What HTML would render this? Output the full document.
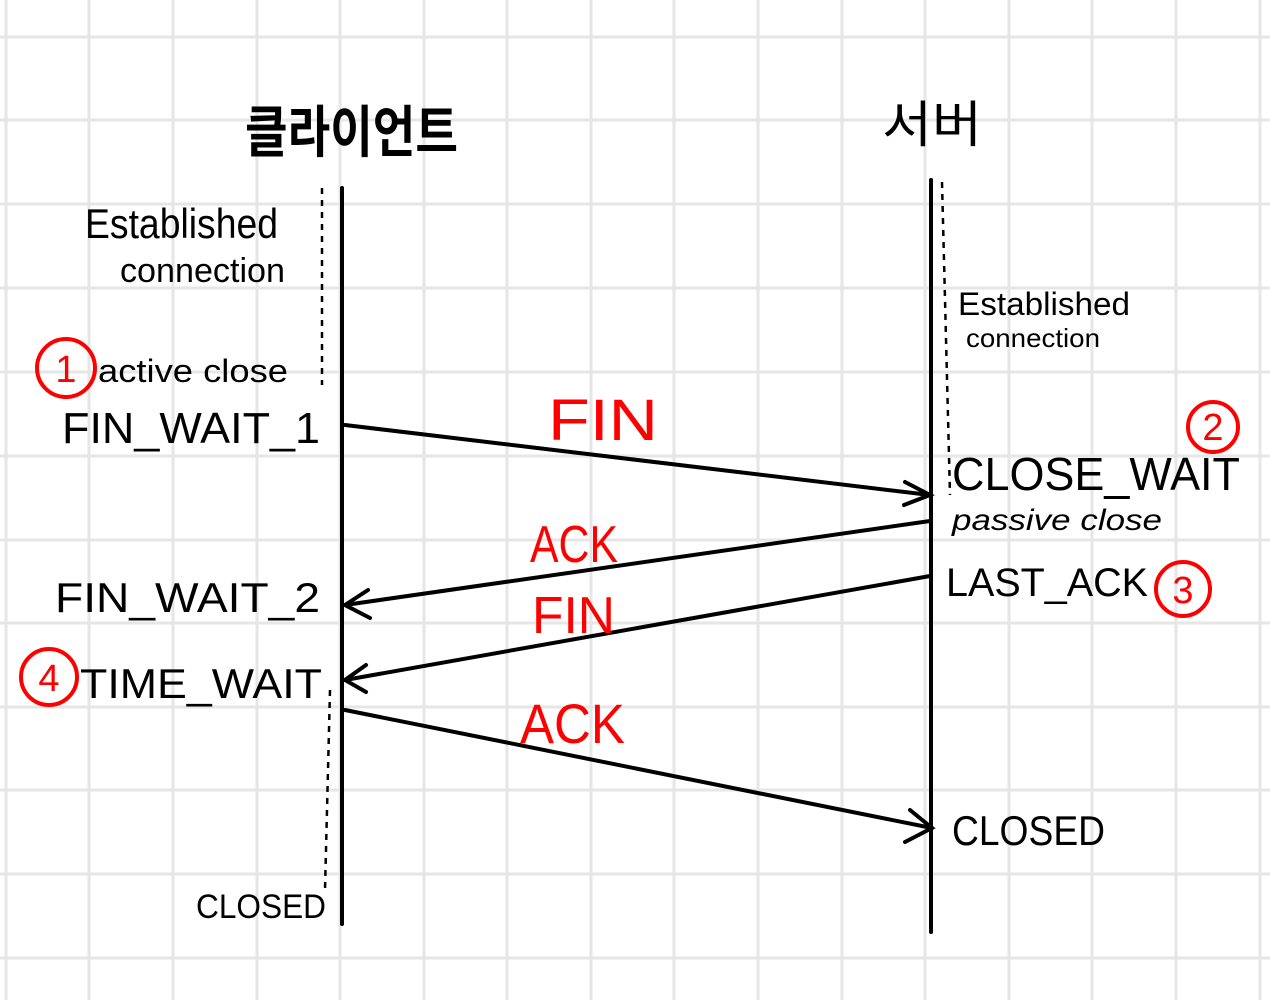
<!DOCTYPE html>
<html><head><meta charset="utf-8"><style>
html,body{margin:0;padding:0;background:#fff;}
svg{display:block}
text{font-family:"Liberation Sans","Noto Sans CJK KR",sans-serif;}
</style></head><body>
<svg width="1270" height="1000" viewBox="0 0 1270 1000" xmlns="http://www.w3.org/2000/svg">
<g stroke="#e6e6e6" stroke-width="3">
<line x1="6" y1="0" x2="6" y2="1000"/><line x1="89" y1="0" x2="89" y2="1000"/><line x1="173" y1="0" x2="173" y2="1000"/><line x1="257" y1="0" x2="257" y2="1000"/><line x1="340" y1="0" x2="340" y2="1000"/><line x1="424" y1="0" x2="424" y2="1000"/><line x1="507" y1="0" x2="507" y2="1000"/><line x1="591" y1="0" x2="591" y2="1000"/><line x1="674" y1="0" x2="674" y2="1000"/><line x1="758" y1="0" x2="758" y2="1000"/><line x1="842" y1="0" x2="842" y2="1000"/><line x1="925" y1="0" x2="925" y2="1000"/><line x1="1009" y1="0" x2="1009" y2="1000"/><line x1="1092" y1="0" x2="1092" y2="1000"/><line x1="1176" y1="0" x2="1176" y2="1000"/><line x1="1260" y1="0" x2="1260" y2="1000"/>
<line y1="37" x1="0" y2="37" x2="1270"/><line y1="120" x1="0" y2="120" x2="1270"/><line y1="204" x1="0" y2="204" x2="1270"/><line y1="288" x1="0" y2="288" x2="1270"/><line y1="372" x1="0" y2="372" x2="1270"/><line y1="456" x1="0" y2="456" x2="1270"/><line y1="540" x1="0" y2="540" x2="1270"/><line y1="623" x1="0" y2="623" x2="1270"/><line y1="707" x1="0" y2="707" x2="1270"/><line y1="790" x1="0" y2="790" x2="1270"/><line y1="874" x1="0" y2="874" x2="1270"/><line y1="958" x1="0" y2="958" x2="1270"/>
</g>
<g stroke="#000" stroke-width="4" fill="none" stroke-linecap="round">
<line x1="342" y1="188" x2="342" y2="924"/>
<line x1="931" y1="180" x2="931" y2="932"/>
<line x1="345" y1="425" x2="930" y2="495"/><polyline points="905,482 930,495 904,505"/>
<line x1="930" y1="521" x2="345" y2="605"/><polyline points="368,590 345,605 370,618"/>
<line x1="930" y1="576" x2="345" y2="680"/><polyline points="366,665 345,680 366,692"/>
<line x1="345" y1="710" x2="932" y2="828"/><polyline points="910,810 932,828 905,842"/>
</g>
<g stroke="#000" stroke-width="2.5" stroke-dasharray="6,6" fill="none">
<line x1="322" y1="188" x2="322" y2="385"/>
<line x1="942" y1="182" x2="950" y2="495"/>
<line x1="330" y1="690" x2="325" y2="890"/>
</g>
<g fill="#000" lengthAdjust="spacingAndGlyphs">
<text x="245" y="152" font-size="56" font-weight="bold" textLength="213" lengthAdjust="spacingAndGlyphs">클라이언트</text>
<text x="882" y="142" font-size="50" textLength="100" lengthAdjust="spacingAndGlyphs">서버</text>
<text x="85" y="238" font-size="42" textLength="193" lengthAdjust="spacingAndGlyphs">Established</text>
<text x="120" y="282" font-size="34" textLength="165" lengthAdjust="spacingAndGlyphs">connection</text>
<text x="98" y="382" font-size="32" textLength="190" lengthAdjust="spacingAndGlyphs">active  close</text>
<text x="62" y="443" font-size="44" textLength="258" lengthAdjust="spacingAndGlyphs">FIN_WAIT_1</text>
<text x="958" y="315" font-size="32" textLength="172" lengthAdjust="spacingAndGlyphs">Established</text>
<text x="966" y="347" font-size="26" textLength="134" lengthAdjust="spacingAndGlyphs">connection</text>
<text x="952" y="490" font-size="46" textLength="288" lengthAdjust="spacingAndGlyphs">CLOSE_WAIT</text>
<text x="952" y="530" font-size="30" font-style="italic" textLength="210" lengthAdjust="spacingAndGlyphs">passive  close</text>
<text x="946" y="596" font-size="40" textLength="202" lengthAdjust="spacingAndGlyphs">LAST_ACK</text>
<text x="55" y="612" font-size="42" textLength="265" lengthAdjust="spacingAndGlyphs">FIN_WAIT_2</text>
<text x="80" y="698" font-size="42" textLength="242" lengthAdjust="spacingAndGlyphs">TIME_WAIT</text>
<text x="952" y="845" font-size="42" textLength="153" lengthAdjust="spacingAndGlyphs">CLOSED</text>
<text x="196" y="918" font-size="34" textLength="130" lengthAdjust="spacingAndGlyphs">CLOSED</text>
</g>
<g fill="#f00">
<text x="548" y="440" font-size="58" textLength="110" lengthAdjust="spacingAndGlyphs">FIN</text>
<text x="530" y="562" font-size="52" textLength="88" lengthAdjust="spacingAndGlyphs">ACK</text>
<text x="532" y="633" font-size="52" textLength="83" lengthAdjust="spacingAndGlyphs">FIN</text>
<text x="520" y="743" font-size="56" textLength="105" lengthAdjust="spacingAndGlyphs">ACK</text>
</g>
<g stroke="#f00" stroke-width="4" fill="none">
<circle cx="66" cy="368" r="29"/>
<circle cx="1213" cy="427" r="25"/>
<circle cx="1183" cy="589" r="27"/>
<circle cx="49" cy="677" r="28"/>
</g>
<g fill="#f00" text-anchor="middle" font-size="38">
<text x="66" y="382">1</text>
<text x="1213" y="440">2</text>
<text x="1183" y="603">3</text>
<text x="49" y="691">4</text>
</g>
</svg>
</body></html>
